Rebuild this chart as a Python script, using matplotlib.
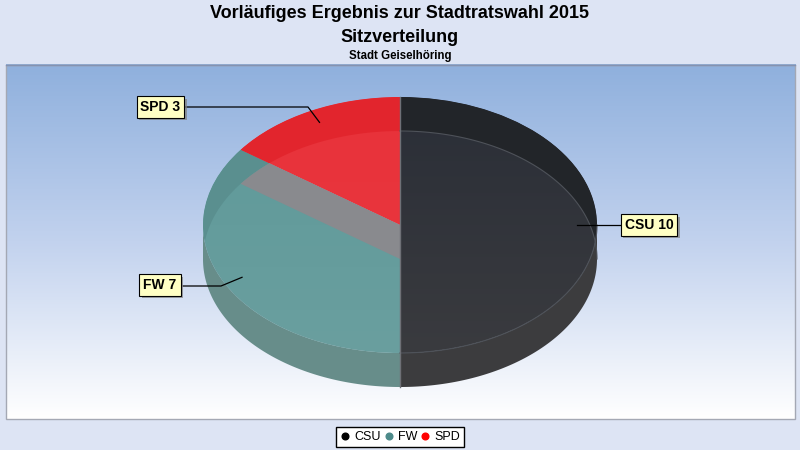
import numpy as np
import matplotlib
matplotlib.use("Agg")
import matplotlib.pyplot as plt
import matplotlib.patheffects as pe
from matplotlib.patches import Wedge, Rectangle, PathPatch, Polygon
from matplotlib.path import Path
from matplotlib.transforms import Affine2D
from matplotlib.colors import LinearSegmentedColormap
from matplotlib.lines import Line2D

parties = ["CSU", "FW", "SPD"]
seats = [10, 7, 3]
top_light = ["#2a2e37", "#5e9999", "#e8323a"]
top_dark = ["#3a3b3f", "#6a9f9f", "#ea3840"]
strip_cols = ["#222529", "#5a8f8f", "#e2252d"]
side_cols = ["#3c3c3e", "#678d8a", "#c02028"]
legend_cols = ["#000000", "#4d8a8a", "#ff0000"]
label_pos = [(649, 225), (160, 285), (160.5, 107)]   # box centres (pixels)
label_knee = [None, (221, 286), (308, 107)]

title = "Vorläufiges Ergebnis zur Stadtratswahl 2015"
subtitle = "Sitzverteilung"
subsub = "Stadt Geiselhöring"

W, H = 800, 450
def Y(y):
    return H - y

fig = plt.figure(figsize=(8, 4.5), dpi=100, facecolor="#dde4f4")
ax = fig.add_axes([0, 0, 1, 1])
ax.set_xlim(0, W)
ax.set_ylim(0, H)
ax.axis("off")

# plot area with gradient
px0, px1, py0, py1 = 5.5, 795, 64.5, 419
bg = LinearSegmentedColormap.from_list("bg", ["#8fb0dd", "#c2d2ee", "#ffffff"])
ax.imshow(np.linspace(0, 1, 256).reshape(-1, 1), cmap=bg, aspect="auto",
          extent=(px0, px1, Y(py1), Y(py0)), origin="upper", zorder=0)
ax.add_patch(Rectangle((px0, Y(py1)), px1 - px0, py1 - py0, fill=False,
                       ec="#a4a8b4", lw=1, zorder=1))
ax.plot([px0, px1], [Y(py0), Y(py0)], color="#8592b0", lw=1, zorder=1)

# pie geometry
cx, cyt, depth = 400, Y(225), 34
a, b = 197, 128
cyb = cyt - depth
sq = b / a

def etrans(cy):
    return Affine2D().scale(1, sq).translate(cx, cy) + ax.transData

total = sum(seats)
angles = []
start = 90
for v in seats:
    t1 = start - 360 * v / total
    angles.append((t1, start))
    start = t1

def arc(cy, t1, t2, n=120):
    th = np.radians(np.linspace(t1, t2, n))
    return np.column_stack([cx + a * np.cos(th), cy + b * np.sin(th)])

# front side walls
for i, (t1, t2) in enumerate(angles):
    lo, hi = max(t1, -180), min(t2, 0)
    if hi > lo:
        pts = np.vstack([arc(cyt, lo, hi), arc(cyb, hi, lo)])
        ax.add_patch(Polygon(pts, closed=True, fc=side_cols[i], ec="none", zorder=2))

# crescent path: top ellipse minus bottom ellipse
te = arc(cyt, 0, 360, 200)
be = arc(cyb, 360, 0, 200)
verts = np.vstack([te, te[:1], be, be[:1]])
codes = ([Path.MOVETO] + [Path.LINETO] * (len(te) - 1) + [Path.CLOSEPOLY]) * 2
crescent = Path(verts, codes)

top_wedges = []
for i, (t1, t2) in enumerate(angles):
    wt = Wedge((0, 0), a, t1, t2, transform=etrans(cyt), fc="none", ec="none")
    ax.add_patch(wt)
    top_wedges.append(wt)
    cmap = LinearSegmentedColormap.from_list("t%d" % i, [top_light[i], top_dark[i]])
    im = ax.imshow(np.linspace(0, 1, 256).reshape(-1, 1), cmap=cmap, aspect="auto",
                   extent=(cx - a, cx + a, cyt - b, cyt + b), origin="upper", zorder=3)
    im.set_clip_path(wt)
    st = PathPatch(crescent, fc=strip_cols[i], ec="none", zorder=4)
    ax.add_patch(st)
    st.set_clip_path(wt)

# FW top over SPD bottom -> grey
t1, t2 = angles[2]
wg = Wedge((0, 0), a, t1, t2, transform=etrans(cyb), fc="#898a8e", ec="none", zorder=5)
ax.add_patch(wg)
wg.set_clip_path(top_wedges[1])

# faint edges
e1 = arc(cyb, 0, 90)
e2 = arc(cyt, -90, 0)
ax.plot(e1[:, 0], e1[:, 1], color="#4e5259", lw=0.8, zorder=6)
ax.plot(e2[:, 0], e2[:, 1], color="#4e5259", lw=0.8, zorder=6)
ax.plot([cx, cx], [cyt + b, cyb - b], color="#6e7076", lw=1, zorder=6)

ax.set_xlim(0, W)
ax.set_ylim(0, H)

# labels
shadow = [pe.SimplePatchShadow(offset=(1.8, -1.8), shadow_rgbFace="#808080", alpha=0.7),
          pe.Normal()]
for i, (t1, t2) in enumerate(angles):
    mid = np.radians((t1 + t2) / 2)
    ax_, ay_ = cx + 0.9 * a * np.cos(mid), cyt + 0.9 * b * np.sin(mid)
    bx, by = label_pos[i]
    txt = "%s %d" % (parties[i], seats[i])
    half = 23 if seats[i] < 10 else 28
    edge_x = bx - half if bx > cx else bx + half
    if label_knee[i] is None:
        xs, ys = [ax_, edge_x], [ay_, Y(by)]
    else:
        kx, ky = label_knee[i]
        xs, ys = [ax_, kx, edge_x], [ay_, Y(ky), Y(ky)]
    ax.plot(xs, ys, color="black", lw=0.9, zorder=7)
    t = ax.text(bx, Y(by), txt, ha="center", va="center", fontsize=10,
                fontweight="bold", family="Liberation Sans", color="black", zorder=9,
                bbox=dict(boxstyle="square,pad=0.28", fc="#ffffc4", ec="black", lw=0.8))
    t.get_bbox_patch().set_path_effects(shadow)

# titles
fig.text(0.5, 1 - 18.5 / H, title, ha="center", va="baseline", fontsize=13,
         fontweight="bold", family="Liberation Sans")
fig.text(0.5, 1 - 41.5 / H, subtitle, ha="center", va="baseline", fontsize=13,
         fontweight="bold", family="Liberation Sans")
fig.text(0.5, 1 - 59.3 / H, subsub, ha="center", va="baseline", fontsize=8.3,
         fontweight="bold", family="Liberation Sans")

# legend
handles = [Line2D([], [], ls="none", marker="o", ms=4.8, mfc=c, mec=c) for c in legend_cols]
leg = fig.legend(handles, parties, loc="center", bbox_to_anchor=(0.5, 1 - 437 / H),
                 ncol=3, frameon=True, fancybox=False, edgecolor="black", framealpha=1,
                 handletextpad=0.32, columnspacing=0.25, handlelength=0.8, borderpad=0.3,
                 prop={"family": "Liberation Sans", "size": 9})
leg.get_frame().set_linewidth(1)

fig.savefig("out.png", dpi=100, facecolor=fig.get_facecolor())
